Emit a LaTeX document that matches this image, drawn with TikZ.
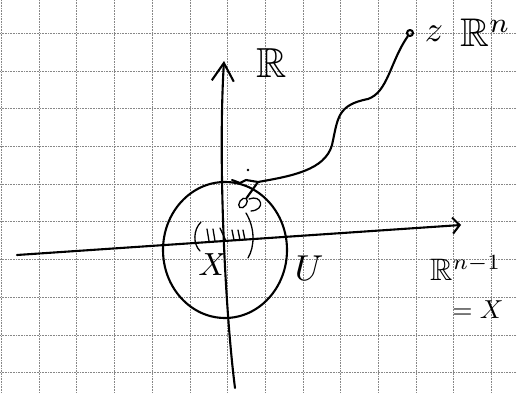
\documentclass[tikz,border=0pt]{standalone}
\usepackage{amsmath,amssymb}
\usepackage{graphicx}
\usepackage{tikz}
\usetikzlibrary{arrows.meta, shapes.geometric, calc}
\definecolor{gridGrey}{RGB}{135,135,135}
\newcommand{\handtext}[2]{\scalebox{#1}{#2}}

\tikzset{
  gridline/.style={gridGrey, densely dotted, line width=0.6pt},
  pen/.style={black, line width=2.1pt, line cap=round, line join=round},
  thinpen/.style={black, line width=1.3pt, line cap=round},
  handlabel/.style={inner sep=0pt},
}

\begin{document}
\begin{tikzpicture}[x=1pt, y=-1pt]
    \useasboundingbox (0,0) rectangle (517,393);
    \fill[white] (0,0) rectangle (517,393);
    % squared paper
    \foreach \k in {0,...,13} \draw[gridline] (1.3+37.7*\k,0) -- (1.3+37.7*\k,393);
    \foreach \k in {1,...,10} \draw[gridline] (0,-4.5+37.7*\k) -- (517,-4.5+37.7*\k);
    % axes
    \coordinate (xleft) at (17,255); \coordinate (xright) at (461,225);
    \coordinate (ybot) at (235,388); \coordinate (ytop) at (224,61);
    \draw[pen, -{Straight Barb[length=7pt,width=16pt]}] (xleft) -- (xright);
    \draw[pen, -{Straight Barb[length=18pt,width=22pt]}] (ybot) .. controls (225,310) and (218,160) .. (ytop);
    % neighbourhood U
    \draw[pen] (225,250) ellipse [x radius=62, y radius=68];
    % hatched piece of X round the origin
    \draw[thinpen] (201,222) .. controls (193,230) and (193,244) .. (200,251);
    \draw[thinpen] (246,213) .. controls (255,228) and (255,246) .. (248,258);
    \foreach \x in {207,213} \draw[thinpen] (\x,229) -- (\x+2,241);
    \draw[thinpen] (220,228) -- (226,241);
    \foreach \x in {232,238,243} \draw[thinpen] (\x,230) -- (\x+2,240);
    % path to z
    \coordinate (kink) at (258,182);
    \node[draw, thinpen, ellipse, rotate=55, minimum width=11pt, minimum height=7pt, inner sep=0pt] (pt) at (243,203) {};
    \node[draw, pen, circle, minimum size=6pt, inner sep=0pt] (zpt) at (410,33) {};
    \draw[pen] (pt) -- (kink);
    \draw[pen] (kink) -- (246,180) -- (240,183) -- (232,180);
    \draw[pen] (kink) .. controls (292,176) and (325,170) .. (332,145) .. controls (338,118) and (337,105) .. (368,99) .. controls (388,92) and (390,62) .. (zpt);
    \draw[thinpen] (249,199) .. controls (262,194) and (266,210) .. (251,211);
    \fill (248,170) circle (1.4pt);
    % labels
    \node[handlabel] (lblR) at (272,63) {\handtext{4.2}{$\mathbb{R}$}};
    \node[handlabel] (lblz) at (434,34) {\handtext{3.6}{$z$}};
    \node[handlabel, anchor=west] (lblRn) at (460,33) {\handtext{4}{$\mathbb{R}^n$}};
    \node[handlabel, anchor=west] (lblRn1) at (430,268) {\handtext{3.1}{$\mathbb{R}^{n-1}$}};
    \node[handlabel] (lblX) at (478,310) {\handtext{2.6}{$=X$}};
    \node[handlabel] (lblU) at (309,268) {\handtext{3.6}{$U$}};
    \node[handlabel] (lblXin) at (213,265) {\handtext{3.2}{$X$}};
\end{tikzpicture}
\end{document}
